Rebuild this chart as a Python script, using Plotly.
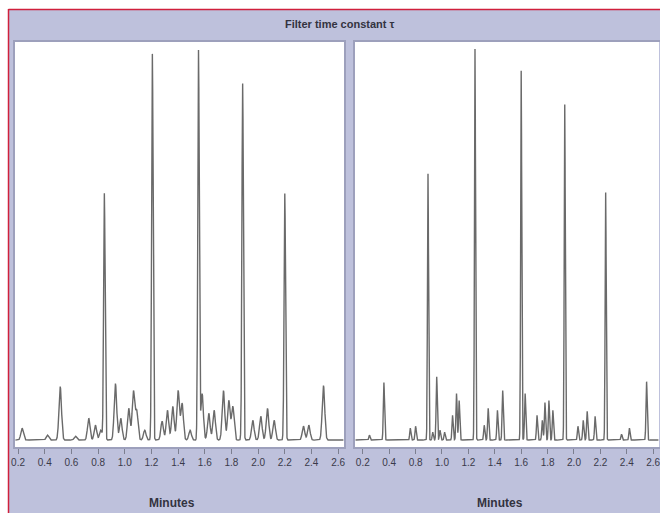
import numpy as np
import plotly.graph_objects as go

# ---- data (retention time in minutes, detector response) ----
left_peak_times = [0.23, 0.42, 0.516, 0.63, 0.73, 0.78, 0.82, 0.847, 0.93, 0.97, 1.03, 1.065, 1.09, 1.15,
                   1.207, 1.28, 1.32, 1.36, 1.40, 1.43, 1.49, 1.553, 1.58, 1.63, 1.67, 1.74, 1.78, 1.81,
                   1.884, 1.96, 2.02, 2.07, 2.12, 2.20, 2.34, 2.38, 2.49]
left_peak_heights = [12, 5, 54, 4, 22, 15, 10, 249, 57, 22, 32, 49, 29, 10,
                     390, 19, 30, 34, 50, 37, 10, 393, 47, 27, 30, 50, 40, 34,
                     360, 20, 24, 32, 20, 249, 14, 15, 55]

right_peak_times = [0.45, 0.56, 0.76, 0.80, 0.894, 0.93, 0.96, 0.985, 1.02, 1.08, 1.11, 1.13, 1.25,
                    1.32, 1.35, 1.42, 1.46, 1.60, 1.63, 1.72, 1.76, 1.78, 1.81, 1.84, 1.93, 2.03,
                    2.07, 2.10, 2.16, 2.24, 2.36, 2.42, 2.55]
right_peak_heights = [5, 58, 12, 14, 269, 8, 64, 10, 8, 25, 47, 40, 395,
                      15, 32, 30, 50, 373, 47, 25, 20, 38, 40, 30, 339, 14,
                      20, 29, 24, 250, 6, 12, 59]

left_ticks = [0.2, 0.4, 0.6, 0.8, 1.0, 1.2, 1.4, 1.6, 1.8, 2.0, 2.2, 2.4, 2.6]
left_tick_text = ["0.2", "0.4", "0.6", "0.8", "1.0", "1.2", "1.4", "1.6", "1.8", "2.0", "2.2", "2.4", "2.6"]
right_ticks = [0.4, 0.6, 0.8, 1.0, 1.2, 1.4, 1.6, 1.8, 2.0, 2.2, 2.4, 2.6]
right_tick_text = ["0.2", "0.4", "0.8", "1.0", "1.2", "1.4", "1.6", "1.8", "2.0", "2.2", "2.4", "2.6"]

title_text = "Filter time constant τ"
x_title = "Minutes"


def chromatogram(times, heights, t, big_sigma, small_sigma, base):
    y = np.full_like(t, base)
    for t0, h in zip(times, heights):
        s = big_sigma if h > 150 else small_sigma
        y += h * np.exp(-0.5 * ((t - t0) / s) ** 2)
    return y


t_left = np.arange(0.18, 2.64, 0.0005)
t_right = np.arange(0.345, 2.64, 0.0005)
y_left = chromatogram(left_peak_times, left_peak_heights, t_left, 0.0055, 0.0095, 3)
y_right = chromatogram(right_peak_times, right_peak_heights, t_right, 0.004, 0.0045, 3)

W, H = 660, 513
BG = "#bec1dc"
LINE = "#6a6a6a"

fig = go.Figure()
fig.add_trace(go.Scatter(x=t_left, y=y_left, mode="lines", line=dict(color=LINE, width=1.4),
                         xaxis="x", yaxis="y", hoverinfo="skip", showlegend=False))
fig.add_trace(go.Scatter(x=t_right, y=y_right, mode="lines", line=dict(color=LINE, width=1.4),
                         xaxis="x2", yaxis="y2", hoverinfo="skip", showlegend=False))

yb, yt = 447, 42
ydom = [1 - yb / H, 1 - yt / H]
tickfont = dict(family="Liberation Sans, Arial, sans-serif", size=10, color="#3a3a4a")
axis_common = dict(showgrid=False, zeroline=False, showline=True, linecolor="#7c7f90", linewidth=1.5,
                   ticks="outside", ticklen=5, tickcolor="#7c7f90", tickwidth=1, tickfont=tickfont,
                   fixedrange=True, mirror=False, automargin=False, ticklabeloverflow="allow")

fig.update_layout(
    template="none",
    width=W, height=H,
    margin=dict(l=0, r=0, t=0, b=0, pad=0),
    paper_bgcolor=BG, plot_bgcolor="white",
    xaxis=dict(domain=[15 / W, 344 / W], range=[0.177, 2.644], tickvals=left_ticks,
               ticktext=left_tick_text, anchor="y", **axis_common),
    yaxis=dict(domain=ydom, range=[-4, 405], visible=False, fixedrange=True, automargin=False),
    xaxis2=dict(domain=[355 / W, 659 / W], range=[0.341, 2.644], tickvals=right_ticks,
                ticktext=right_tick_text, anchor="y2", **axis_common),
    yaxis2=dict(domain=ydom, range=[-4, 405], visible=False, fixedrange=True, automargin=False),
    shapes=[
        # white margin outside the red frame
        dict(type="rect", xref="paper", yref="paper", x0=0, x1=8 / W, y0=0, y1=1,
             fillcolor="white", line=dict(width=0), layer="below"),
        dict(type="rect", xref="paper", yref="paper", x0=0, x1=1, y0=1 - 9 / H, y1=1,
             fillcolor="white", line=dict(width=0), layer="below"),
        dict(type="line", xref="paper", yref="paper", x0=8.5 / W, x1=8.5 / W, y0=0, y1=1 - 9 / H,
             line=dict(color="#d0203c", width=1.5)),
        dict(type="line", xref="paper", yref="paper", x0=8.5 / W, x1=1, y0=1 - 9.5 / H, y1=1 - 9.5 / H,
             line=dict(color="#d0203c", width=1.5)),
        # panel frames
        dict(type="rect", xref="paper", yref="paper", x0=14 / W, x1=345 / W, y0=1 - 448 / H, y1=1 - 41 / H,
             line=dict(color="#9da0bc", width=2), fillcolor="rgba(0,0,0,0)", layer="above"),
        dict(type="rect", xref="paper", yref="paper", x0=354 / W, x1=661 / W, y0=1 - 448 / H, y1=1 - 41 / H,
             line=dict(color="#9da0bc", width=2), fillcolor="rgba(0,0,0,0)", layer="above"),
    ],
    annotations=[
        dict(text="<b>" + title_text + "</b>", xref="paper", yref="paper", x=340 / W, y=1 - 24 / H,
             showarrow=False, xanchor="center", yanchor="middle",
             font=dict(family="Liberation Sans, Arial, sans-serif", size=11, color="#333340")),
        dict(text="<b>" + x_title + "</b>", xref="paper", yref="paper", x=172 / W, y=1 - 503 / H,
             showarrow=False, xanchor="center", yanchor="middle",
             font=dict(family="Liberation Sans, Arial, sans-serif", size=12, color="#333340")),
        dict(text="<b>" + x_title + "</b>", xref="paper", yref="paper", x=500 / W, y=1 - 503 / H,
             showarrow=False, xanchor="center", yanchor="middle",
             font=dict(family="Liberation Sans, Arial, sans-serif", size=12, color="#333340")),
    ],
)

fig.write_html("out.html", config={"displayModeBar": False},
               post_script="document.body.style.margin='0';document.body.style.overflow='hidden';")
